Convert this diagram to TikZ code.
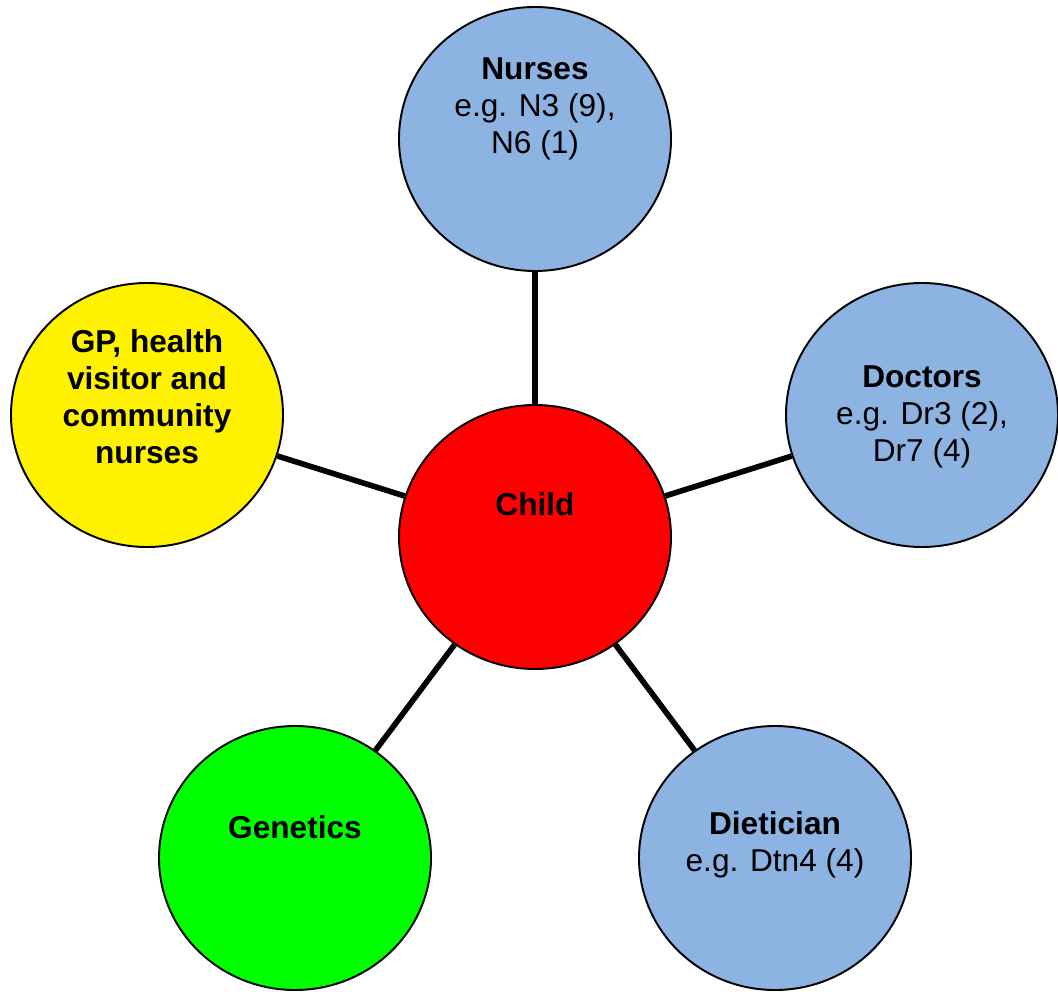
\documentclass[tikz,border=0pt]{standalone}
\usepackage{fontspec}
\setmainfont{Liberation Sans}
\usepackage{tikz}
\usetikzlibrary{shapes.geometric}
\definecolor{staffblue}{RGB}{141,179,226}

\begin{document}
\begin{tikzpicture}[
    blob/.style={ellipse, draw, line width=1.1pt, minimum width=5.44cm, minimum height=5.28cm, inner sep=0pt},
    txt/.style={align=center, font=\fontsize{18}{21}\selectfont}
  ]
  \useasboundingbox (0,0) rectangle (21.16,19.82);
  \node[blob, fill=red]       (child)     at (10.70,9.08)  {};
  \node[blob, fill=staffblue] (nurses)    at (10.70,17.04) {};
  \node[blob, fill=staffblue] (doctors)   at (18.44,11.52) {};
  \node[blob, fill=staffblue] (dietician) at (15.50,2.66)  {};
  \node[blob, fill=green]     (genetics)  at (5.90,2.66)   {};
  \node[blob, fill=yellow]    (gp)        at (2.94,11.52)  {};

  \node[txt] (childtxt)     at ([yshift=0.66cm]child.center)     {\textbf{Child}};
  \node[txt] (nursestxt)    at ([yshift=0.60cm]nurses.center)    {\textbf{Nurses}\\e.g. N3 (9),\\N6 (1)};
  \node[txt] (doctorstxt)   at ([yshift=-0.04cm]doctors.center)  {\textbf{Doctors}\\e.g. Dr3 (2),\\Dr7 (4)};
  \node[txt] (dieticiantxt) at ([yshift=0.26cm]dietician.center) {\textbf{Dietician}\\e.g. Dtn4 (4)};
  \node[txt] (geneticstxt)  at ([yshift=0.62cm]genetics.center)  {\textbf{Genetics}};
  \node[txt] (gptxt)        at ([yshift=0.36cm]gp.center)        {\textbf{GP, health}\\\textbf{visitor and}\\\textbf{community}\\\textbf{nurses}};

  \path[line width=3.2pt]
  (child) edge (nurses)
          edge (doctors)
          edge (dietician)
          edge (genetics)
          edge (gp)
  ;
\end{tikzpicture}
\end{document}
